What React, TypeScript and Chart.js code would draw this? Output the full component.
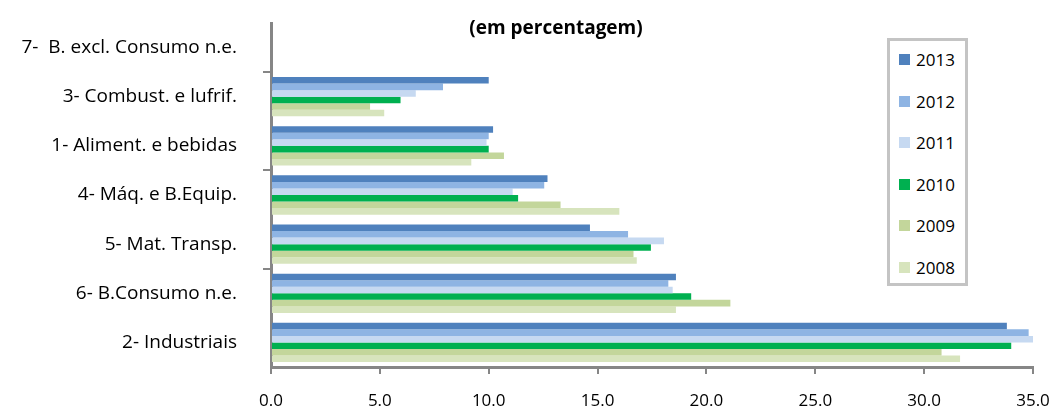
import React, { useEffect, useRef } from 'react';
import { Chart, registerables } from 'chart.js';

Chart.register(...registerables);

const categories = [
  '7-  B. excl. Consumo n.e.',
  '3- Combust. e lufrif.',
  '1- Aliment. e bebidas',
  '4- Máq. e B.Equip.',
  '5- Mat. Transp.',
  '6- B.Consumo n.e.',
  '2- Industriais',
];

const years = ['2013', '2012', '2011', '2010', '2009', '2008'];
const yearColors = ['#4F81BD', '#8EB4E3', '#C6D9F1', '#00B050', '#C3D69B', '#D7E4BD'];

const values2013 = [0, 10.0, 10.2, 12.7, 14.65, 18.6, 33.8];
const values2012 = [0, 7.9, 10.0, 12.55, 16.4, 18.25, 34.8];
const values2011 = [0, 6.65, 9.9, 11.1, 18.05, 18.45, 35.0];
const values2010 = [0, 5.95, 10.0, 11.35, 17.45, 19.3, 34.0];
const values2009 = [0, 4.55, 10.7, 13.3, 16.65, 21.1, 30.8];
const values2008 = [0, 5.2, 9.2, 16.0, 16.8, 18.6, 31.65];

const seriesValues = [values2013, values2012, values2011, values2010, values2009, values2008];

const xMin = 0;
const xMax = 35;
const xStep = 5;

const titleText = '(em percentagem)';

const FONT = '"Open Sans", Lato, sans-serif';
const AXIS_GRAY = '#868686';

export default function App() {
  const canvasRef = useRef<HTMLCanvasElement>(null);

  useEffect(() => {
    const canvas = canvasRef.current;
    if (!canvas) return;
    const chart = new Chart(canvas, {
      type: 'bar',
      data: {
        labels: categories,
        datasets: years.map((y, i) => ({
          label: y,
          data: seriesValues[i],
          backgroundColor: yearColors[i],
          borderWidth: 0,
          categoryPercentage: 0.8,
          barPercentage: 1.0,
        })),
      },
      options: {
        indexAxis: 'y',
        responsive: false,
        animation: false,
        layout: { padding: { top: 23, right: 21, left: 0, bottom: 0 } },
        plugins: {
          legend: { display: false },
          tooltip: { enabled: false },
          title: { display: false },
        },
        scales: {
          x: {
            min: xMin,
            max: xMax,
            ticks: {
              stepSize: xStep,
              callback: (v: any) => Number(v).toFixed(1),
              color: '#000',
              font: { family: FONT, size: 17 },
              padding: 17,
              maxRotation: 0,
            },
            grid: {
              drawOnChartArea: false,
              tickLength: 7,
              color: AXIS_GRAY,
              lineWidth: 2,
            },
            border: { color: AXIS_GRAY, width: 3 },
            afterFit: (s: any) => {
              s.height = 45;
              s.paddingLeft = 0;
              s.paddingRight = 0;
            },
          },
          y: {
            ticks: {
              color: '#000',
              font: { family: FONT, size: 19 },
              padding: 26,
            },
            grid: {
              offset: true,
              drawOnChartArea: false,
              tickLength: 8,
              lineWidth: 2,
              color: (ctx: any) => (ctx.index % 2 === 1 ? AXIS_GRAY : 'rgba(0,0,0,0)'),
            },
            border: { color: AXIS_GRAY, width: 3 },
            afterFit: (s: any) => {
              s.width = 271;
              s.paddingTop = 0;
              s.paddingBottom = 0;
            },
          },
        },
      },
    });
    return () => chart.destroy();
  }, []);

  const legendCenters = [59, 101, 142, 184, 225, 267];

  return (
    <div style={{ position: 'fixed', left: 0, top: 0, width: 1054, height: 412, background: '#fff', overflow: 'hidden' }}>
      <canvas ref={canvasRef} width={1054} height={412} style={{ position: 'absolute', left: 0, top: 0 }} />
      <div
        style={{
          position: 'absolute',
          left: 406,
          width: 300,
          top: 14,
          textAlign: 'center',
          fontFamily: FONT,
          fontWeight: 'bold',
          fontSize: 19,
          lineHeight: '26px',
          color: '#000',
        }}
      >
        {titleText}
      </div>
      <div
        style={{
          position: 'absolute',
          left: 887,
          top: 38,
          width: 81,
          height: 248,
          boxSizing: 'border-box',
          border: '3px solid #C4C4C4',
          background: '#fff',
        }}
      />
      {years.map((y, i) => (
        <div
          key={y}
          style={{
            position: 'absolute',
            left: 899,
            top: legendCenters[i] - 12,
            height: 24,
            display: 'flex',
            alignItems: 'center',
            fontFamily: FONT,
            fontSize: 17,
            color: '#000',
          }}
        >
          <span style={{ display: 'inline-block', width: 11, height: 11, background: yearColors[i], marginRight: 6 }} />
          <span>{y}</span>
        </div>
      ))}
    </div>
  );
}
